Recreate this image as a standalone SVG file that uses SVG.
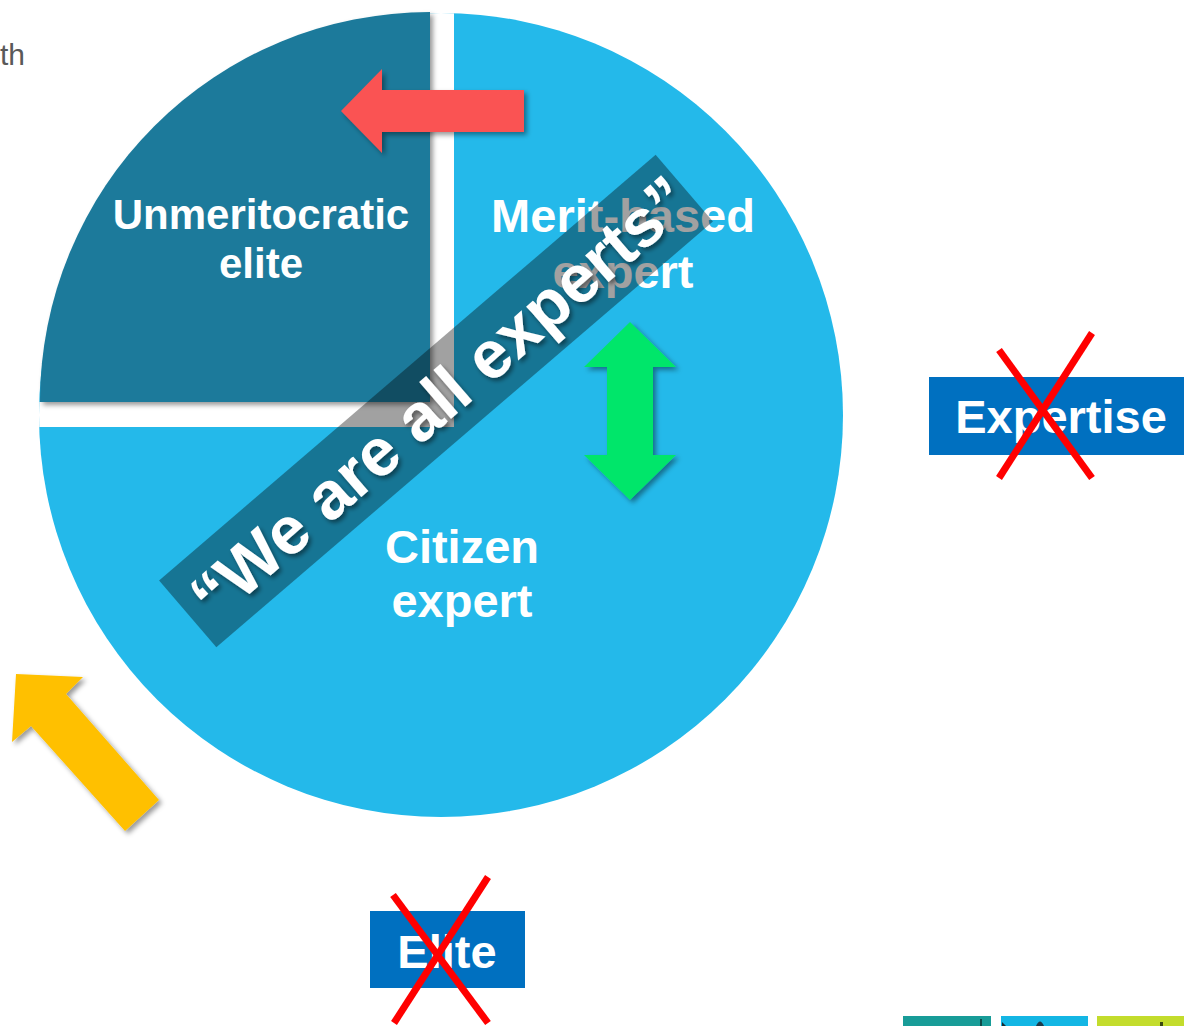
<svg xmlns="http://www.w3.org/2000/svg" width="1184" height="1026" viewBox="0 0 1184 1026">
  <style>
    .lbl { font-family: "Liberation Sans", Arial, sans-serif; font-weight: bold; fill: #ffffff; text-anchor: middle; }
    .tag { font-family: "Liberation Sans", Arial, sans-serif; font-weight: bold; fill: #ffffff; font-size: 47px; text-anchor: middle; }
    .box { fill: #0070c0; }
    .cross { stroke: #ff0000; stroke-width: 7; stroke-linecap: butt; }
  </style>
  <defs>
    <clipPath id="disc">
      <circle cx="441" cy="415" r="402"/>
    </clipPath>
    <filter id="shadow" x="-20%" y="-20%" width="140%" height="140%">
      <feDropShadow dx="3" dy="3" stdDeviation="2.5" flood-color="#000" flood-opacity="0.4"/>
    </filter>
    <filter id="tshadow" x="-10%" y="-10%" width="120%" height="120%">
      <feDropShadow dx="2.5" dy="3" stdDeviation="2" flood-color="#000" flood-opacity="0.45"/>
    </filter>
  </defs>

  <rect width="1184" height="1026" fill="#ffffff"/>

  <!-- clipped heading fragment at the top-left edge -->
  <text x="25" y="65" font-family="'Liberation Sans', Arial, sans-serif" font-size="30" fill="#595959" text-anchor="end">th</text>

  <!-- pie: citizen expert / merit-based expert share the light disc, elite quadrant pulled out -->
  <g id="pie">
    <circle cx="441" cy="415" r="402" fill="#24b9ea"/>
    <path d="M430 0 H454 V427 H0 V402 H430 Z" fill="#ffffff" clip-path="url(#disc)"/>
    <g filter="url(#shadow)">
      <path d="M430 402 H40 A390 390 0 0 1 430 12 Z" fill="#1b7a9b"/>
    </g>
  </g>

  <g id="unmeritocratic-elite">
    <text class="lbl" x="261" y="229" font-size="42">Unmeritocratic</text>
    <text class="lbl" x="261" y="278" font-size="42">elite</text>
  </g>

  <g id="merit-based-expert">
    <text class="lbl" x="623" y="232" font-size="47">Merit-based</text>
    <text class="lbl" x="623" y="288" font-size="47">expert</text>
  </g>

  <g id="citizen-expert">
    <text class="lbl" x="462" y="563" font-size="47">Citizen</text>
    <text class="lbl" x="462" y="617" font-size="47">expert</text>
  </g>

  <!-- arrows -->
  <g id="connectors" filter="url(#shadow)">
    <polygon points="341,111 382,69 382,90 524,90 524,132 382,132 382,153" fill="#fa5252"/>
    <polygon points="630,322 676,367 653,367 653,455 676,455 630,500 584,455 607,455 607,367 584,367" fill="#00e66b"/>
    <polygon points="16,674 83,677 66,694 159,800 125,831 31,726 12,742" fill="#ffc000"/>
  </g>

  <!-- diagonal slogan banner -->
  <g id="banner">
    <rect x="-327" y="-44" width="654" height="88" fill="#000000" fill-opacity="0.37" transform="translate(436,401) rotate(-40.6)"/>
    <g filter="url(#tshadow)">
      <text transform="translate(440,398) rotate(-41)" x="0" y="23" font-family="'Liberation Sans', Arial, sans-serif" font-weight="bold" font-size="67" fill="#ffffff" text-anchor="middle">“We are all experts”</text>
    </g>
  </g>

  <g id="expertise">
    <rect class="box" x="929" y="377" width="255" height="78"/>
    <text class="tag" x="1061" y="433">Expertise</text>
    <line class="cross" x1="999" y1="350" x2="1092" y2="478"/>
    <line class="cross" x1="1092" y1="333" x2="999" y2="478"/>
  </g>

  <g id="elite">
    <rect class="box" x="370" y="911" width="155" height="77"/>
    <text class="tag" x="447" y="968">Elite</text>
    <line class="cross" x1="393" y1="895" x2="488" y2="1023"/>
    <line class="cross" x1="488" y1="877" x2="394" y2="1023"/>
  </g>

  <!-- thumbnail strip along the bottom edge -->
  <g id="thumbnails">
    <rect x="903" y="1016" width="88" height="10" fill="#189c98"/>
    <rect x="1001" y="1016" width="87" height="10" fill="#14b6e4"/>
    <rect x="1097" y="1016" width="87" height="10" fill="#c3dc2c"/>
    <rect x="980" y="1019" width="2" height="7" fill="#0d4a48"/>
    <path d="M1002 1022 L1006 1026 L1002 1026 Z" fill="#1a2a30"/>
    <path d="M1036 1026 Q1040 1017 1044 1026 Z" fill="#1e3a48"/>
    <rect x="1160" y="1022" width="3" height="4" fill="#3a4a10"/>
  </g>
</svg>
